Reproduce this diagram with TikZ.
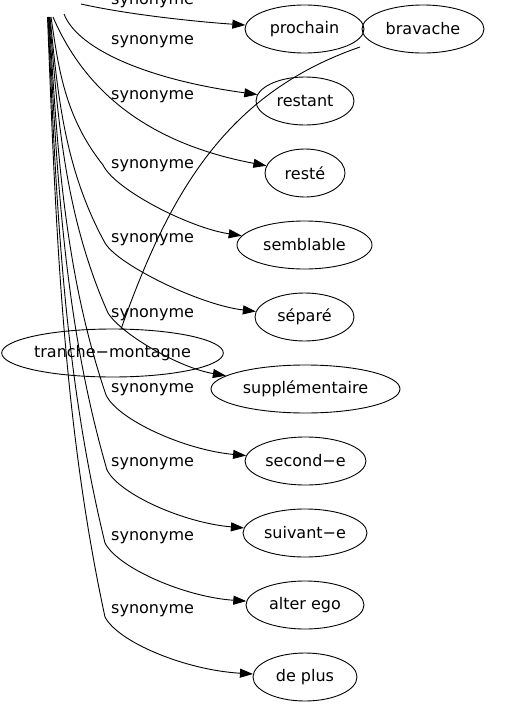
\documentclass[tikz,border=0pt]{standalone}
\usepackage{fontspec}
\setmainfont{DejaVu Sans}
\usetikzlibrary{shapes.geometric,arrows.meta}
\begin{document}
\begin{tikzpicture}[x=1pt,y=-1pt,
  word/.style={draw=black, ellipse, line width=0.9pt, minimum height=48pt, inner sep=0pt, font=\fontsize{16}{19}\selectfont},
  lab/.style={anchor=base west, inner sep=0pt, font=\fontsize{16}{19}\selectfont},
  syn/.style={draw=black, line width=0.9pt, -{Triangle[length=13pt,width=9pt]}},
  plainedge/.style={draw=black, line width=0.9pt}]
\useasboundingbox (0,0) rectangle (506,707);
\fill[white] (0,0) rectangle (506,707);
\clip (0,0) rectangle (506,707);
% nodes
\node[word, minimum width=119pt] (prochain) at (304.5,29) {prochain};
\node[word, minimum width=122pt] (bravache) at (423,29) {bravache};
\node[word, minimum width=98pt] (restant) at (305,101) {restant};
\node[word, minimum width=80pt] (reste) at (305,173) {resté};
\node[word, minimum width=135pt] (semblable) at (304.5,245) {semblable};
\node[word, minimum width=99pt] (separe) at (304.5,317) {séparé};
\node[word, minimum width=189pt] (supp) at (305.5,389) {supplémentaire};
\node[word, minimum width=121pt] (second) at (305.5,461) {second−e};
\node[word, minimum width=124pt] (suivant) at (305,533) {suivant−e};
\node[word, minimum width=118pt] (alter) at (305,605) {alter ego};
\node[word, minimum width=104pt] (deplus) at (305,677) {de plus};
\node[word, minimum width=217pt] (tm) at (112.5,353) {tranche−montagne};
% labels
\node[lab] (l1) at (111,4) {synonyme};
\node[lab] (l2) at (111,44) {synonyme};
\node[lab] (l3) at (111,99) {synonyme};
\node[lab] (l4) at (111,168) {synonyme};
\node[lab] (l5) at (111,242) {synonyme};
\node[lab] (l6) at (111,317) {synonyme};
\node[lab] (l7) at (111,392) {synonyme};
\node[lab] (l8) at (111,466) {synonyme};
\node[lab] (l9) at (111,540) {synonyme};
\node[lab] (l10) at (111,613) {synonyme};
% edge start points (source node lies above the picture)
\coordinate (s1) at (81,4);
\coordinate (s2) at (64,14);
\coordinate (s3) at (53,17);
\coordinate (s4) at (51,17);
\coordinate (s5) at (50,17);
\coordinate (s6) at (49.5,17);
\coordinate (s7) at (49,17);
\coordinate (s8) at (48.5,17);
\coordinate (s9) at (48,17);
\coordinate (s10) at (47.5,17);
\coordinate (bv) at (360,47);
% edges
\path[syn] (s1) .. controls (130,15) and (200,22) .. (prochain);
\path[syn] (s2) .. controls (78,50) and (150,80) .. (restant);
\path[syn] (s3) .. controls (78,75) and (130,140) .. (reste);
\path[syn] (s4) .. controls (58.3,66) and (64,116) .. (103,165) .. controls (115,190) and (190,228) .. (semblable);
\path[syn] (s5) .. controls (57.7,92.3) and (63.75,167.7) .. (105,243) .. controls (118,265) and (200,305) .. (separe);
\path[syn] (s6) .. controls (57.7,115.7) and (64.1,214.3) .. (108,313) .. controls (122,335) and (180,368) .. (supp);
\path[syn] (s7) .. controls (57,143) and (63.25,269) .. (106,395) .. controls (118,420) and (185,450) .. (second);
\path[syn] (s8) .. controls (56.7,168) and (63.1,319) .. (107,470) .. controls (120,495) and (185,523) .. (suivant);
\path[syn] (s9) .. controls (56,192.3) and (62.25,367.7) .. (105,543) .. controls (118,568) and (185,597) .. (alter);
\path[syn] (s10) .. controls (55.5,217) and (61.9,417) .. (105,617) .. controls (118,642) and (185,670) .. (deplus);
\path[plainedge] (bv) .. controls (227,93) and (170,191) .. (tm);
\end{tikzpicture}
\end{document}
